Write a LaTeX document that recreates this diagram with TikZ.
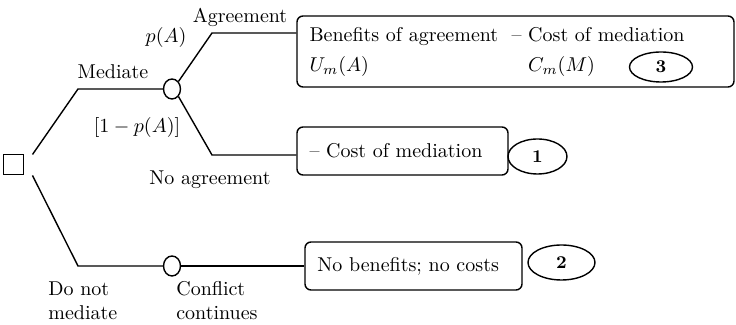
\documentclass[tikz,border=0pt]{standalone}
\usepackage{tikz}
\usetikzlibrary{shapes.geometric}

\begin{document}
\begin{tikzpicture}[x=0.5pt,y=-0.5pt,line width=0.7pt]
  \tikzstyle{decision}=[rectangle,draw=black,line width=0.5pt,inner sep=0pt,minimum size=10pt]
  \tikzstyle{chance}=[ellipse,draw=black,inner sep=0pt,minimum width=8.5pt,minimum height=10pt]
  \tikzstyle{outcome}=[rectangle,rounded corners=3pt,draw=black,inner xsep=6pt,align=left]
  \tikzstyle{payoff}=[ellipse,draw=black,inner sep=0pt,font=\small\bfseries]
  \useasboundingbox (0,0) rectangle (736,325);

  \node[decision] (d0) at (14,165) {};
  \node[chance] (c1) at (172,89) {};
  \node[chance] (c2) at (172,266) {};

  % outcomes
  \node[outcome, minimum width=218.5pt, minimum height=35.5pt, text width=206pt] (box3) at (515.5,51.5)
    {\begin{tabular}{@{}l@{\ \ }l}
      Benefits of agreement & -- Cost of mediation\\[3pt]
      $U_m(A)$ & \phantom{-- }$C_m(M)$
    \end{tabular}};
  \node[outcome, minimum width=105.5pt, minimum height=24pt, text width=93pt] (box1) at (402.5,151) {-- Cost of mediation};
  \node[outcome, minimum width=108.5pt, minimum height=24pt, text width=96pt] (box2) at (413.5,266) {No benefits; no costs};

  \node[payoff, minimum width=31.5pt, minimum height=15pt] (n3) at (661,67) {3};
  \node[payoff, minimum width=29.5pt, minimum height=17.5pt] (n1) at (537.5,156.5) {1};
  \node[payoff, minimum width=33.5pt, minimum height=17.5pt] (n2) at (561.5,262.5) {2};

  % labels
  \node (lagr) at (240,17) {Agreement};
  \node (lp) at (166,38) {$p(A)$};
  \node (lmed) at (113,72) {Mediate};
  \node (lq) at (137,128) {$[1-p(A)]$};
  \node (lnoagr) at (210,180) {No agreement};
  \node[align=left, anchor=west] (ldont) at (41,301) {Do not\\mediate};
  \node[align=left, anchor=west] (lcont) at (169,301) {Conflict\\continues};

  % edges
  \coordinate (bm) at (78,89);
  \coordinate (bn) at (78,266);
  \coordinate (ba) at (212,33);
  \coordinate (bb) at (212,155);

  \draw ([xshift=4pt]d0.north east) -- (bm) -- (c1);
  \draw ([xshift=4pt]d0.south east) -- (bn) -- (c2);
  \draw (c1.north east) -- (ba) -- (ba -| box3.west);
  \draw (c1.south east) -- (bb) -- (bb -| box1.west);
  \draw (c2) -- (box2);

\end{tikzpicture}
\end{document}
